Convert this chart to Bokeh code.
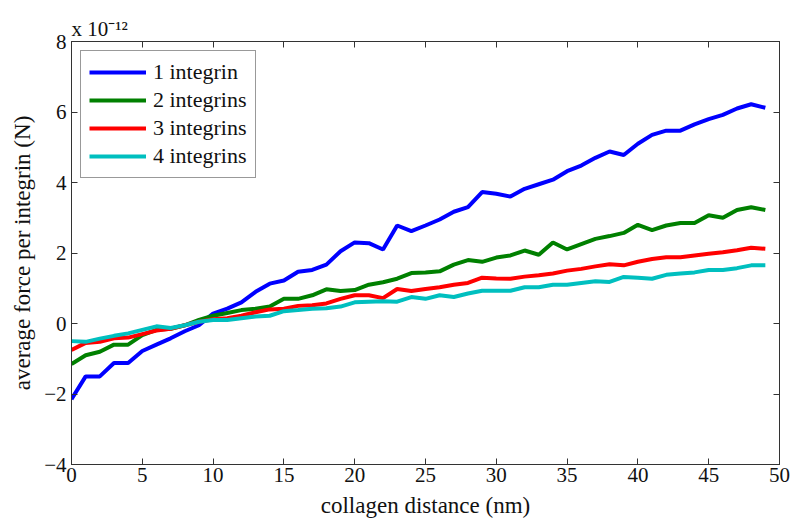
from bokeh.plotting import figure
from bokeh.models import (Range1d, LinearAxis, FixedTicker, CustomJSTickFormatter,
                          Legend, LegendItem, Title)
from bokeh.embed import file_html
from bokeh.resources import INLINE

x = list(range(50))
one_integrin = [-2.15, -1.5, -1.5, -1.12, -1.12, -0.78, -0.6, -0.42, -0.22, -0.05,
                0.28, 0.42, 0.6, 0.9, 1.13, 1.22, 1.47, 1.52, 1.67, 2.05,
                2.3, 2.28, 2.1, 2.78, 2.62, 2.78, 2.95, 3.17, 3.3, 3.73,
                3.68, 3.6, 3.82, 3.95, 4.08, 4.32, 4.48, 4.7, 4.88, 4.78,
                5.1, 5.35, 5.47, 5.47, 5.65, 5.8, 5.92, 6.1, 6.22, 6.12]
two_integrins = [-1.15, -0.9, -0.8, -0.6, -0.6, -0.33, -0.18, -0.15, -0.05, 0.1,
                 0.22, 0.3, 0.38, 0.42, 0.48, 0.7, 0.7, 0.8, 0.97, 0.92,
                 0.95, 1.1, 1.17, 1.27, 1.43, 1.45, 1.48, 1.67, 1.8, 1.75,
                 1.87, 1.93, 2.07, 1.95, 2.3, 2.1, 2.25, 2.4, 2.48, 2.57,
                 2.8, 2.65, 2.78, 2.85, 2.85, 3.07, 3.0, 3.22, 3.3, 3.22]
three_integrins = [-0.75, -0.55, -0.52, -0.42, -0.4, -0.3, -0.2, -0.15, -0.05, 0.05,
                   0.12, 0.15, 0.22, 0.32, 0.4, 0.42, 0.5, 0.52, 0.57, 0.7,
                   0.8, 0.8, 0.72, 0.98, 0.92, 0.98, 1.03, 1.1, 1.15, 1.3,
                   1.28, 1.27, 1.33, 1.37, 1.42, 1.5, 1.55, 1.62, 1.68, 1.65,
                   1.75, 1.83, 1.88, 1.88, 1.93, 1.98, 2.02, 2.08, 2.15, 2.12]
four_integrins = [-0.5, -0.52, -0.43, -0.35, -0.28, -0.18, -0.08, -0.13, -0.05, 0.05,
                  0.1, 0.1, 0.15, 0.2, 0.22, 0.35, 0.38, 0.42, 0.43, 0.48,
                  0.6, 0.62, 0.63, 0.62, 0.75, 0.7, 0.8, 0.75, 0.85, 0.93,
                  0.93, 0.93, 1.03, 1.03, 1.1, 1.1, 1.15, 1.2, 1.18, 1.32,
                  1.3, 1.27, 1.38, 1.42, 1.45, 1.52, 1.52, 1.57, 1.65, 1.65]

series_names = ["1 integrin", "2 integrins", "3 integrins", "4 integrins"]
series_values = [one_integrin, two_integrins, three_integrins, four_integrins]
series_colors = ["#0000FF", "#008000", "#FF0000", "#00BFBF"]
x_ticks = [0, 5, 10, 15, 20, 25, 30, 35, 40, 45, 50]
y_ticks = [-4, -2, 0, 2, 4, 6, 8]
scale_text = "x 10\u207b\u00b9\u00b2"

FONT = "'Liberation Serif', 'Times New Roman', serif"

p = figure(width=800, height=531, output_backend="svg", toolbar_location=None,
           x_range=Range1d(0, 50), y_range=Range1d(-4, 8),
           min_border_left=71, min_border_right=21, min_border_top=41, min_border_bottom=67,
           title=None)
p.xgrid.visible = False
p.ygrid.visible = False
p.outline_line_color = "#333333"
p.outline_line_width = 1

minus_fmt = CustomJSTickFormatter(code="return tick.toString().replace('-', '\u2212');")
blank_fmt = CustomJSTickFormatter(code="return '';")

def style_axis(ax, ticks, fmt):
    ax.ticker = FixedTicker(ticks=ticks)
    ax.formatter = fmt
    ax.major_tick_in = 6
    ax.major_tick_out = 0
    ax.minor_tick_line_color = None
    ax.axis_line_color = "#333333"
    ax.major_tick_line_color = "#333333"
    ax.major_label_text_font = FONT
    ax.major_label_text_font_size = "21px"
    ax.major_label_text_font_style = "normal"
    ax.major_label_text_color = "#111111"
    ax.axis_label_text_font = FONT
    ax.axis_label_text_font_size = "23px"
    ax.axis_label_text_font_style = "normal"
    ax.axis_label_text_color = "#111111"

style_axis(p.xaxis[0], x_ticks, minus_fmt)
style_axis(p.yaxis[0], y_ticks, minus_fmt)
p.xaxis[0].axis_label = "collagen distance (nm)"
p.xaxis[0].axis_label_standoff = 8
p.xaxis[0].major_label_standoff = 3
p.yaxis[0].axis_label = "average force per integrin (N)"
p.yaxis[0].axis_label_standoff = 6
p.yaxis[0].major_label_standoff = 5

top_ax = LinearAxis()
style_axis(top_ax, x_ticks, blank_fmt)
top_ax.major_label_text_font_size = "0px"
top_ax.major_label_standoff = 0
right_ax = LinearAxis()
style_axis(right_ax, y_ticks, blank_fmt)
right_ax.major_label_text_font_size = "0px"
right_ax.major_label_standoff = 0
p.add_layout(top_ax, "above")
p.add_layout(right_ax, "right")

title = Title(text=scale_text, align="left", offset=0, text_font=FONT,
              text_font_size="21px", text_font_style="normal", text_color="#111111",
              standoff=2)
p.add_layout(title, "above")

items = []
for name, vals, col in zip(series_names, series_values, series_colors):
    r = p.line(x, vals, line_color=col, line_width=4)
    items.append(LegendItem(label=name, renderers=[r]))

legend = Legend(items=items, location="top_left")
legend.label_text_font = FONT
legend.label_text_font_size = "22px"
legend.label_text_font_style = "normal"
legend.label_text_color = "#111111"
legend.glyph_width = 57
legend.glyph_height = 20
legend.label_height = 20
legend.label_standoff = 7
legend.spacing = 2
legend.padding = 8
legend.margin = 9
legend.border_line_color = "#333333"
legend.border_line_width = 1
legend.background_fill_alpha = 1.0
p.add_layout(legend, "center")

open("out.html", "w").write(file_html(p, INLINE))
